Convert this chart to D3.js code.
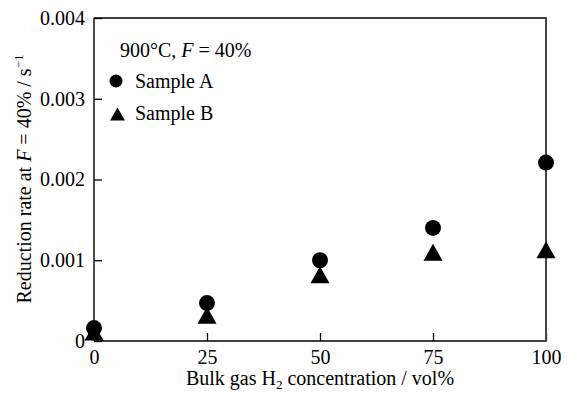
<!DOCTYPE html>
<html><head><meta charset="utf-8">
<script src="https://cdn.jsdelivr.net/npm/d3@7"></script>
<style>body{margin:0;background:#fff}svg{display:block}svg text{font-family:"Liberation Serif","Tinos","Times New Roman","DejaVu Serif",serif !important;fill:#000}</style>
</head><body><svg id="c" width="571" height="394"></svg>
<script>
const h2Conc = [0, 25, 50, 75, 100];
const sampleA = [0.00016, 0.00047, 0.00100, 0.00140, 0.00221];
const sampleB = [0.00011, 0.00032, 0.00082, 0.00110, 0.00113];
const xTicks = [0, 25, 50, 75, 100];
const yTicks = [0, 0.001, 0.002, 0.003, 0.004];
const yTickLabels = ["0", "0.001", "0.002", "0.003", "0.004"];

const svg = d3.select("#c");
const L = 94, R = 546, T = 18, B = 341;
const x = d3.scaleLinear().domain([0, 100]).range([L, R]);
const y = d3.scaleLinear().domain([0, 0.004]).range([B, T]);
const fs = 20;
const FF = '"Liberation Serif", "Tinos", "Times New Roman", "DejaVu Serif", serif';

// axes
const xAxis = d3.axisBottom(x).tickValues(xTicks).tickSizeInner(-8).tickSizeOuter(0).tickPadding(9).tickFormat(d3.format("d"));
const gx = svg.append("g").attr("transform", `translate(0,${B})`).call(xAxis);
const yAxis = d3.axisLeft(y).tickValues(yTicks).tickSizeInner(-8).tickSizeOuter(0).tickPadding(10).tickFormat((d,i)=>yTickLabels[i]);
const gy = svg.append("g").attr("transform", `translate(${L},0)`).call(yAxis);
[gx, gy].forEach(g => {
  g.attr("font-family", FF).attr("font-size", fs);
  g.selectAll(".domain").remove();
  g.selectAll(".tick line").attr("stroke", "#000").attr("stroke-width", 1.3);
  g.selectAll(".tick text").attr("font-size", fs);
});
gx.selectAll(".tick text").attr("dy", "0.71em");
gy.selectAll(".tick text").attr("x", -9);

// frame
svg.append("line").attr("x1", L).attr("x2", R).attr("y1", T).attr("y2", T).attr("stroke", "#000").attr("stroke-width", 1.4);
svg.append("line").attr("x1", L).attr("x2", R).attr("y1", B).attr("y2", B).attr("stroke", "#000").attr("stroke-width", 1.4);
svg.append("line").attr("x1", L).attr("x2", L).attr("y1", T).attr("y2", B).attr("stroke", "#000").attr("stroke-width", 1.4);
svg.append("line").attr("x1", R).attr("x2", R).attr("y1", T - 0.7).attr("y2", B + 0.7).attr("stroke", "#444").attr("stroke-width", 2);

function tri(w, h) { return `M0,${-h/2}L${w/2},${h/2}L${-w/2},${h/2}Z`; }

// data markers
svg.append("g").selectAll("path").data(h2Conc).join("path")
  .attr("d", tri(19, 17))
  .attr("transform", (d,i) => `translate(${x(d)},${y(sampleB[i])})`)
  .attr("fill", "#000");
svg.append("g").selectAll("circle").data(h2Conc).join("circle")
  .attr("cx", d => x(d)).attr("cy", (d,i) => y(sampleA[i])).attr("r", 8)
  .attr("fill", "#000");

// legend
const lg = svg.append("g").attr("font-family", FF).attr("font-size", fs);
lg.append("text").attr("x", 120).attr("y", 57)
  .html('900°C, <tspan font-style="italic">F</tspan> = 40%');
lg.append("circle").attr("cx", 116).attr("cy", 81).attr("r", 6.5).attr("fill", "#000");
lg.append("text").attr("x", 135).attr("y", 88).text("Sample A");
lg.append("path").attr("d", tri(15, 13)).attr("transform", "translate(117.5,114)").attr("fill", "#000");
lg.append("text").attr("x", 135).attr("y", 120).text("Sample B");

// axis titles
const tg = svg.append("g").attr("font-family", FF).attr("font-size", fs);
tg.append("text").attr("x", (L + R) / 2).attr("y", 385).attr("text-anchor", "middle")
  .html('Bulk gas H<tspan font-size="13" dy="4">2</tspan><tspan dy="-4"> concentration / vol%</tspan>');
tg.append("text").attr("transform", "translate(31,179) rotate(-90)").attr("text-anchor", "middle")
  .html('Reduction rate at <tspan font-style="italic">F</tspan> = 40% / s<tspan font-size="13" dy="-8">−1</tspan>');
</script></body></html>
